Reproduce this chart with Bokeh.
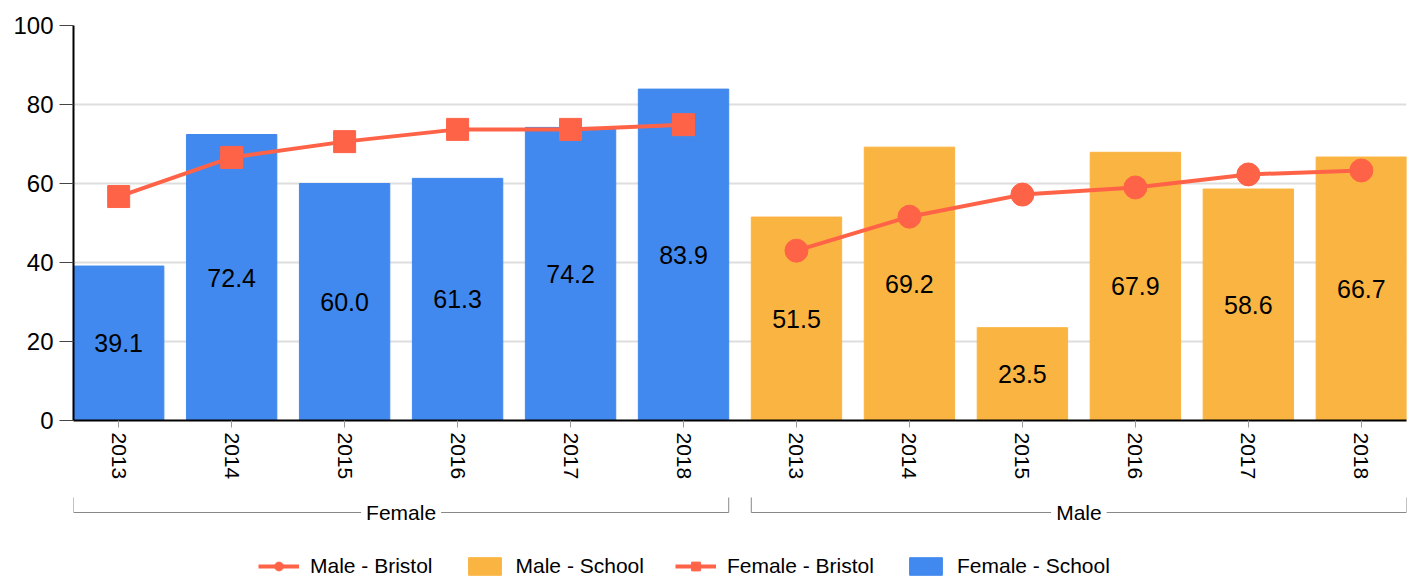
import math
from bokeh.plotting import figure
from bokeh.models import Range1d, FixedTicker, ColumnDataSource, Legend, LegendItem, Label
from bokeh.layouts import column
from bokeh.embed import file_html
from bokeh.resources import INLINE
from bokeh.core.properties import value

# ---- data ----
years = ["2013", "2014", "2015", "2016", "2017", "2018"]
groups = ["Female", "Male"]
female_school = [39.1, 72.4, 60.0, 61.3, 74.2, 83.9]
male_school = [51.5, 69.2, 23.5, 67.9, 58.6, 66.7]
female_bristol = [56.7, 66.6, 70.6, 73.7, 73.7, 74.9]
male_bristol = [43.0, 51.6, 57.2, 59.0, 62.3, 63.3]
y_ticks = [0, 20, 40, 60, 80, 100]

# ---- style ----
FONT = "Liberation Sans"
BLUE = "#4189EE"
ORANGE = "#FAB441"
RED = "#FF6347"
BAR_W = 0.8

n = len(years)
xf = list(range(n))
xm = [n + i for i in range(n)]
x_range = Range1d(-BAR_W / 2, 2 * n - 1 + BAR_W / 2)

p = figure(width=1407, height=484, x_range=x_range, y_range=Range1d(0, 100),
           output_backend="svg", toolbar_location=None,
           min_border_left=73, min_border_right=1, min_border_top=25, min_border_bottom=64)

p.vbar(x=xf, top=female_school, width=BAR_W, color=BLUE)
p.vbar(x=xm, top=male_school, width=BAR_W, color=ORANGE)

p.line(xf, female_bristol, line_color=RED, line_width=4)
p.scatter(xf, female_bristol, marker="square", size=22, color=RED)
p.line(xm, male_bristol, line_color=RED, line_width=4)
p.scatter(xm, male_bristol, marker="circle", size=23, color=RED)

vals = female_school + male_school
p.text(x=xf + xm, y=[v / 2 for v in vals], text=[f"{v:.1f}" for v in vals],
       text_align="center", text_baseline="middle", text_font=value(FONT),
       text_font_size="25px", text_color="black")

p.xaxis.ticker = FixedTicker(ticks=xf + xm)
p.xaxis.major_label_overrides = {i: y for i, y in enumerate(years * 2)}
p.xaxis.major_label_orientation = -math.pi / 2
p.xaxis.major_label_text_font = FONT
p.xaxis.major_label_text_font_size = "21px"
p.xaxis.major_label_text_color = "black"
p.xaxis.axis_line_color = "black"
p.xaxis.axis_line_width = 2
p.xaxis.major_tick_line_color = "#999999"
p.xaxis.major_tick_out = 7
p.xaxis.major_tick_in = 0
p.xaxis.minor_tick_line_color = None

p.yaxis.ticker = FixedTicker(ticks=y_ticks)
p.yaxis.major_label_text_font = FONT
p.yaxis.major_label_text_font_size = "24px"
p.yaxis.major_label_text_color = "black"
p.yaxis.axis_line_color = "black"
p.yaxis.axis_line_width = 2
p.yaxis.major_tick_line_color = "#444444"
p.yaxis.major_tick_out = 14
p.yaxis.major_tick_in = 0
p.yaxis.major_label_standoff = 6
p.yaxis.minor_tick_line_color = None

p.xgrid.visible = False
p.ygrid.grid_line_color = "#dedede"
p.ygrid.grid_line_width = 2
p.outline_line_color = None

# ---- group brackets + legend ----
QH = 94
q = figure(width=1407, height=QH, x_range=x_range, y_range=Range1d(0, QH),
           output_backend="svg", toolbar_location=None,
           x_axis_location=None, y_axis_location=None,
           min_border_left=73, min_border_right=1, min_border_top=0, min_border_bottom=0)
q.grid.visible = False
q.outline_line_color = None

for g, idx in zip(groups, [xf, xm]):
    left = idx[0] - BAR_W / 2
    right = idx[-1] + BAR_W / 2
    q.line([left, left, right, right], [81, 66, 66, 81], line_color="#888888", line_width=1)
    q.add_layout(Label(x=(left + right) / 2, y=66, text=g, text_align="center",
                       text_baseline="middle", text_font=FONT, text_font_size="21px",
                       text_color="black", background_fill_color="white", padding=5))

nan = float("nan")
src = ColumnDataSource(dict(x=[nan], y=[nan]))
lm = q.line("x", "y", source=src, line_color=RED, line_width=4)
sm = q.scatter("x", "y", source=src, marker="circle", size=12, color=RED)
bm = q.vbar(x="x", top="y", width=BAR_W, source=src, color=ORANGE)
lf = q.line("x", "y", source=src, line_color=RED, line_width=4)
sf = q.scatter("x", "y", source=src, marker="square", size=12, color=RED)
bf = q.vbar(x="x", top="y", width=BAR_W, source=src, color=BLUE)

legend = Legend(items=[
    LegendItem(label="Male - Bristol", renderers=[lm, sm]),
    LegendItem(label="Male - School", renderers=[bm]),
    LegendItem(label="Female - Bristol", renderers=[lf, sf]),
    LegendItem(label="Female - School", renderers=[bf]),
], location=(185, 0), orientation="horizontal", glyph_width=41, glyph_height=22,
    label_standoff=11, spacing=31, padding=0, margin=0, border_line_color=None,
    background_fill_alpha=0, label_text_font=FONT, label_text_font_size="21px",
    label_text_color="black")
q.add_layout(legend)

layout = column(p, q)
open("out.html", "w").write(file_html(layout, INLINE))
